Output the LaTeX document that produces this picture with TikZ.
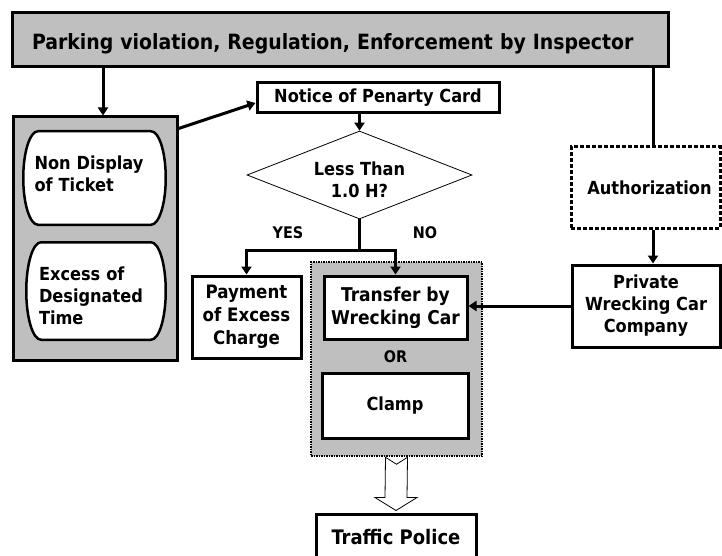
\documentclass[tikz,border=0pt]{standalone}
\usepackage{fontspec}
\setmainfont{DejaVu Sans Condensed}
\usetikzlibrary{arrows.meta,shapes.geometric,calc}

% invisible struts that push a node's text down (extra height) or up (extra depth)
\newcommand\pushdown[1]{\rule{0pt}{#1}}
\newcommand\pushup[1]{\rule[-#1]{0pt}{#1}}

\tikzset{
  box/.style={draw, line width=3pt, fill=white, inner sep=0pt, align=center},
  graybox/.style={draw, line width=3pt, fill=gray!50, inner sep=0pt},
  dotgroup/.style={draw, line width=2.5pt, dash pattern=on 1.5pt off 1pt, fill=gray!50, inner sep=0pt},
  dashbox/.style={box, dash pattern=on 4pt off 2pt},
  arr/.style={line width=3pt, -{Triangle[width=10pt,length=8pt]}},
  link/.style={line width=3pt},
  lbl/.style={font=\bfseries\fontsize{16}{19}\selectfont},
  big/.style={font=\bfseries\fontsize{19}{23}\selectfont},
  hollow/.style={draw, line width=0.8pt, fill=white},
  % rectangle with elliptical left and right sides, drawn inside the node
  ovalbox/.style={fill=gray!50, inner sep=0pt, align=left,
    path picture={
      \draw[line width=2.5pt, fill=white]
        ([xshift=16pt,yshift=-1.25pt]path picture bounding box.north west)
        -- ([xshift=-16pt,yshift=-1.25pt]path picture bounding box.north east)
        arc[start angle=90, end angle=-90, x radius=14.75pt, y radius=#1]
        -- ([xshift=16pt,yshift=1.25pt]path picture bounding box.south west)
        arc[start angle=270, end angle=90, x radius=14.75pt, y radius=#1]
        -- cycle;
    }},
}

\begin{document}
\begin{tikzpicture}[x=1pt, y=-1pt, font=\bfseries\fontsize{18}{22}\selectfont]
\useasboundingbox (0,0) rectangle (722,556);

% header
\node[graybox, minimum width=656pt, minimum height=54pt, text width=616pt,
      inner xsep=20pt, align=left, font=\bfseries\fontsize{21}{25}\selectfont]
  (top) at (340,40)
  {\pushdown{24pt}Parking violation, Regulation, Enforcement by Inspector};

% violation types
\node[graybox, minimum width=164pt, minimum height=243pt] (lbox) at (95,238.5) {};
\node[ovalbox=46.75pt, minimum width=145pt, minimum height=96pt, text width=120pt]
  (nd) at (94.5,178) {Non Display\\of Ticket\pushup{9pt}};
\node[ovalbox=48.75pt, minimum width=142pt, minimum height=100pt, text width=114pt]
  (ex) at (96,291) {\pushdown{23.5pt}Excess of\\Designated\\Time};

% notice and decision
\node[box, minimum width=242pt, minimum height=30pt] (notice) at (378,98)
  {Notice of Penarty Card};
\node[diamond, draw, line width=0.8pt, fill=white, aspect=2.56, inner sep=0pt,
      minimum width=225pt, minimum height=88pt, align=center] (dec) at (359.5,175)
  {\pushdown{23.5pt}Less Than\\1.0 H?};

\node[box, minimum width=109pt, minimum height=82pt, font=\bfseries\fontsize{18.5}{23}\selectfont]
  (pay) at (246.5,317) {Payment\\of Excess\\Charge};

% towing / clamping group
\node[dotgroup, minimum width=171pt, minimum height=194pt] (grp) at (396.5,359) {};
\node[box, big, minimum width=143pt, minimum height=63pt] (tr) at (395.5,307.5)
  {Transfer by\\Wrecking Car};
\node[lbl] (or) at (395.5,357) {OR};
\node[box, minimum width=146pt, minimum height=65pt] (cl) at (395,405.5) {Clamp};

\node[box, minimum width=160pt, minimum height=46pt, font=\bfseries\fontsize{20}{24}\selectfont]
  (tp) at (396,537) {Traffic Police};

% right column
\node[dashbox, minimum width=149pt, minimum height=81pt] (auth) at (645.5,187.5)
  {\hspace*{8pt}Authorization};
\node[box, minimum width=148pt, minimum height=82pt] (pw) at (646,306)
  {Private\\Wrecking Car\\Company};

\node[lbl] (yes) at (288,233) {YES};
\node[lbl] (no) at (425,233) {NO};

% helper columns
\coordinate (cx1) at (103,0);
\coordinate (cx2) at (653,0);

% connectors
\draw[arr] (top.south -| cx1) -- (lbox.north -| cx1);
\draw[arr] ($(lbox.north east)+(0,13)$) -- ($(notice.west)+(0,5)$);
\draw[arr] (notice.south -| dec.north) -- (dec.north);
\draw[link] (dec.south) -- ++(0,31) coordinate (split);
\draw[arr] ($(split)+(1.5,0)$) -| (pay.north);
\draw[arr] ($(split)+(-1.5,0)$) -| (tr.north);
\draw[link] (top.south -| cx2) -- (auth.north -| cx2);
\draw[arr] (auth.south -| cx2) -- (pw.north -| cx2);
\draw[arr] (pw.west) -- (tr.east |- pw.west);

% hollow block arrow to the police
\draw[hollow] ($(grp.south)+(-11,0)$) -- ($(grp.south)+(0,7)$) -- ($(grp.south)+(11,0)$)
  -- ($(tp.north)+(11,-15)$) -- ($(tp.north)+(21,-15)$) -- ($(tp.north)+(0,-2)$)
  -- ($(tp.north)+(-21,-15)$) -- ($(tp.north)+(-11,-15)$) -- cycle;
\end{tikzpicture}
\end{document}
